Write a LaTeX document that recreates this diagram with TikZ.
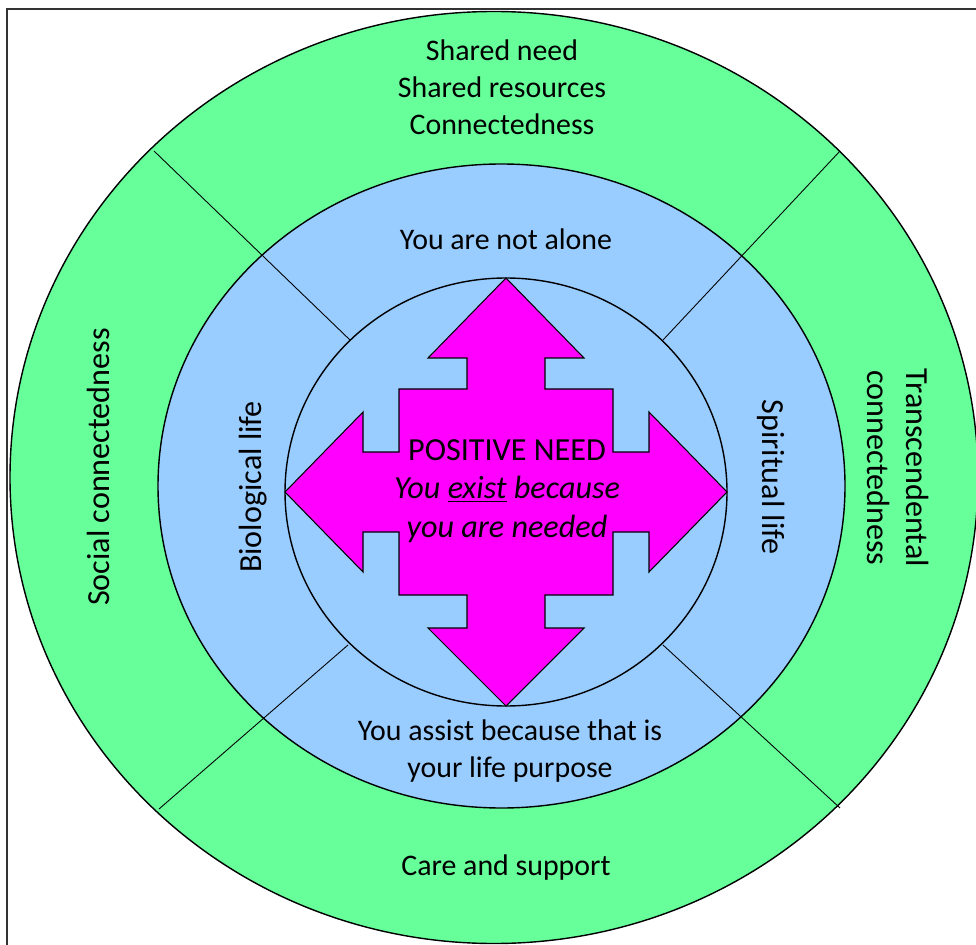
\documentclass[tikz,border=0pt]{standalone}
\usepackage{fontspec}
\setmainfont{Carlito}
\usepackage{xcolor}
\usepackage{tikz}

\definecolor{ringgreen}{HTML}{66FF99}
\definecolor{ringblue}{HTML}{99CCFF}
\definecolor{needpink}{HTML}{FF00FF}

\begin{document}
\begin{tikzpicture}[x=0.02cm,y=-0.02cm,
    ring/.style={draw=black,line width=0.8pt},
    divider/.style={black,line width=0.5pt},
    lbl/.style={align=center,font=\fontsize{17}{21}\selectfont,inner sep=0pt},
    biglbl/.style={lbl,font=\fontsize{18.3}{22}\selectfont}]
  \useasboundingbox (0,0) rectangle (976,945);
  \draw[line width=1.4pt,black!80] (7,9) rectangle (995,965);
  % rings
  \filldraw[ring,fill=ringgreen] (494,477.5) ellipse [x radius=484, y radius=466];
  \filldraw[ring,fill=ringblue] (501.5,486) ellipse [x radius=343.5, y radius=322];
  \coordinate (tlout) at (154,151);
  \coordinate (tlin) at (350,340);
  \coordinate (trout) at (840,151);
  \coordinate (trin) at (663,340);
  \coordinate (blout) at (159,809);
  \coordinate (blin) at (348,645);
  \coordinate (brout) at (840,808);
  \coordinate (brin) at (663,645);
  \draw[divider] (tlout) -- (tlin);
  \draw[divider] (trout) -- (trin);
  \draw[divider] (blout) -- (blin);
  \draw[divider] (brout) -- (brin);
  \filldraw[ring,fill=ringblue] (506,492) ellipse [x radius=221, y radius=214];
  % four way arrow
  \filldraw[draw=black,line width=0.6pt,fill=needpink]
    (506,278) -- (584,358) -- (545,358) -- (545,389) -- (613,389) -- (613,452)
    -- (649,452) -- (649,412) -- (727,492) -- (649,572) -- (649,532) -- (613,532)
    -- (613,595) -- (545,595) -- (545,628) -- (584,628) -- (506,706) -- (428,628)
    -- (467,628) -- (467,595) -- (399,595) -- (399,532) -- (363,532) -- (363,572)
    -- (285,492) -- (363,412) -- (363,452) -- (399,452) -- (399,389) -- (467,389)
    -- (467,358) -- (428,358) -- cycle;
  % labels
  \node[lbl] (shared) at (502,87) {Shared need\\Shared resources\\Connectedness};
  \node[lbl] (alone) at (506,239) {You are not alone};
  \node[biglbl,rotate=90] (social) at (98,467) {Social connectedness};
  \node[biglbl,rotate=90] (bio) at (253,487) {Biological life};
  \node[biglbl,rotate=-90] (spirit) at (771,477) {Spiritual life};
  \node[biglbl,rotate=-90] (transc) at (898,468) {Transcendental\\connectedness};
  \node[lbl] (assist) at (510,751) {You assist because that is\\your life purpose};
  \node[lbl] (care) at (506,868) {Care and support};
  \node[biglbl] (need) at (507,491) {POSITIVE NEED\\\textit{You \underline{exist} because}\\\textit{you are needed}};
\end{tikzpicture}
\end{document}
